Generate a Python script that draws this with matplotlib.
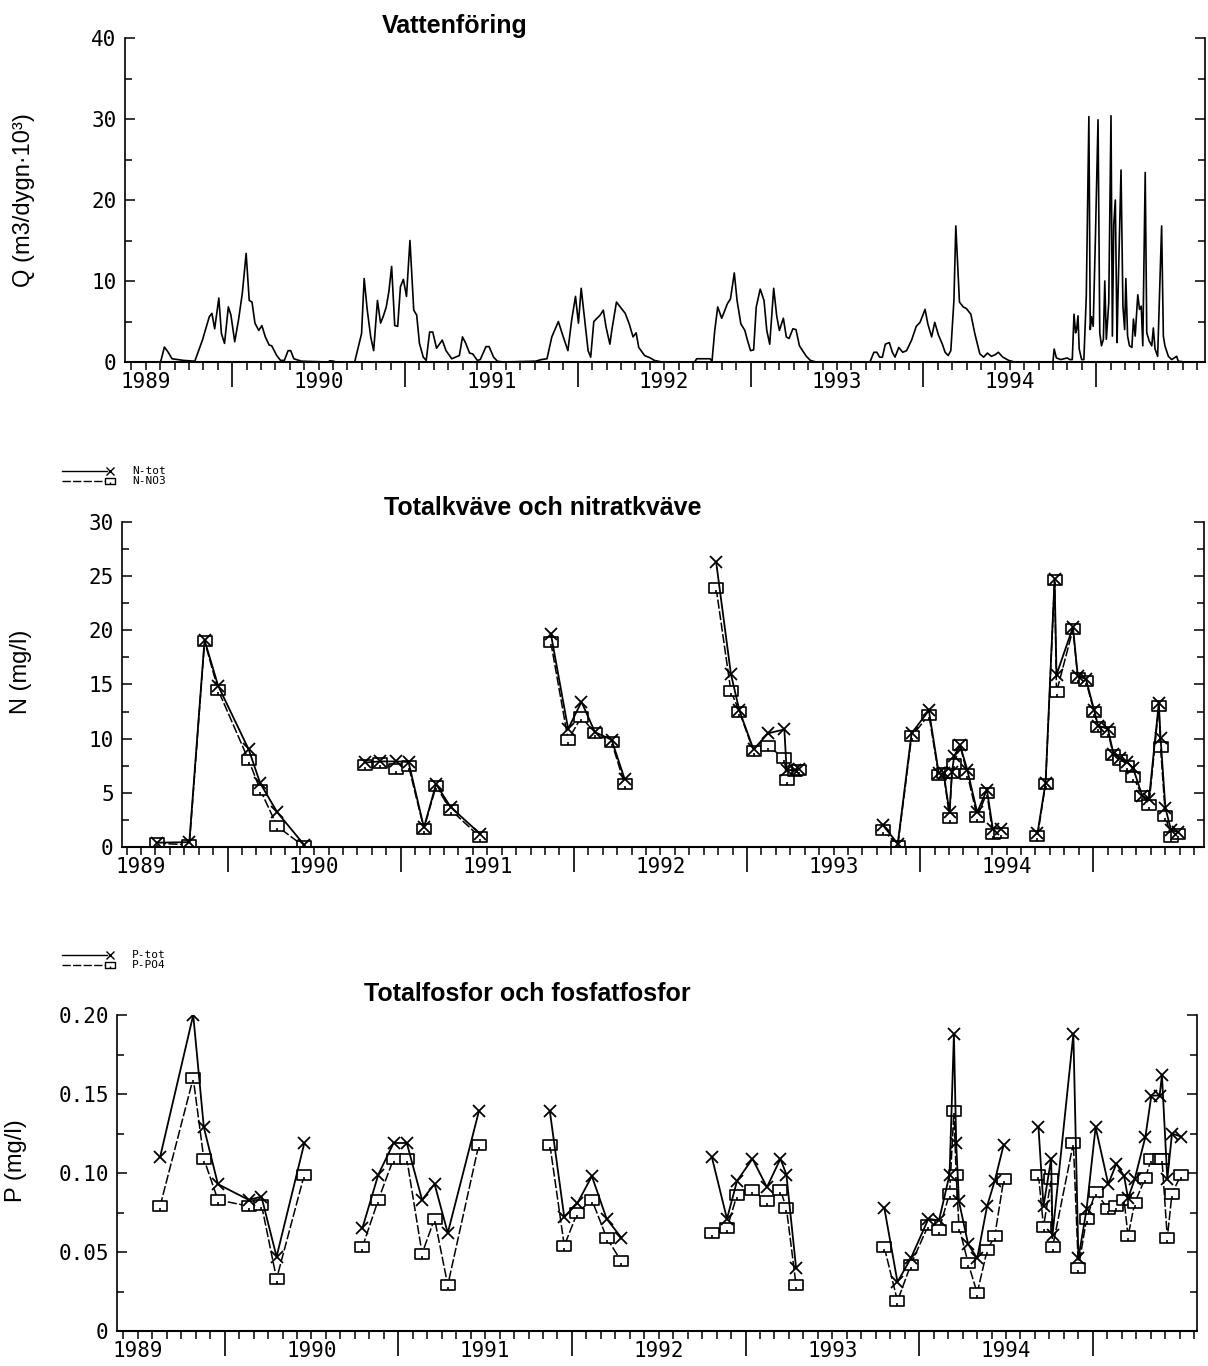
import numpy as np
import matplotlib
matplotlib.use("Agg")
import matplotlib.pyplot as plt
from matplotlib.path import Path
from matplotlib.lines import Line2D
import matplotlib.font_manager as fm

# ---- data (decimal years) ----
year_labels = ["1989", "1990", "1991", "1992", "1993", "1994"]

q_t = [1988.877, 1989.086, 1989.108, 1989.130, 1989.152, 1989.218, 1989.284, 1989.306, 1989.328, 1989.350,
       1989.368, 1989.383, 1989.399, 1989.423, 1989.438, 1989.456, 1989.478, 1989.493, 1989.515, 1989.537,
       1989.559, 1989.581, 1989.599, 1989.615, 1989.632, 1989.654, 1989.672, 1989.692, 1989.714, 1989.729,
       1989.758, 1989.780, 1989.802, 1989.824, 1989.839, 1989.857, 1989.901, 1990.055, 1990.066, 1990.088,
       1990.099, 1990.209, 1990.231, 1990.249, 1990.264, 1990.282, 1990.302, 1990.319, 1990.341, 1990.359,
       1990.374, 1990.392, 1990.407, 1990.423, 1990.441, 1990.458, 1990.474, 1990.491, 1990.509, 1990.529,
       1990.551, 1990.568, 1990.584, 1990.606, 1990.623, 1990.643, 1990.661, 1990.683, 1990.716, 1990.738,
       1990.771, 1990.793, 1990.815, 1990.833, 1990.852, 1990.874, 1990.892, 1990.919, 1990.936, 1990.969,
       1990.987, 1991.013, 1991.035, 1991.068, 1991.256, 1991.289, 1991.322, 1991.350, 1991.388, 1991.410,
       1991.443, 1991.465, 1991.487, 1991.504, 1991.520, 1991.542, 1991.560, 1991.575, 1991.593, 1991.630,
       1991.648, 1991.664, 1991.686, 1991.697, 1991.724, 1991.753, 1991.775, 1991.798, 1991.820, 1991.838,
       1991.853, 1991.887, 1991.920, 1991.943, 1991.987, 1992.177, 1992.188, 1992.266, 1992.277, 1992.293,
       1992.310, 1992.333, 1992.348, 1992.366, 1992.384, 1992.406, 1992.422, 1992.444, 1992.467, 1992.482,
       1992.500, 1992.518, 1992.533, 1992.556, 1992.578, 1992.594, 1992.611, 1992.634, 1992.652, 1992.667,
       1992.690, 1992.707, 1992.723, 1992.745, 1992.763, 1992.783, 1992.801, 1992.823, 1992.846, 1992.879,
       1993.191, 1993.214, 1993.231, 1993.247, 1993.263, 1993.280, 1993.303, 1993.321, 1993.336, 1993.358,
       1993.381, 1993.403, 1993.432, 1993.459, 1993.481, 1993.510, 1993.526, 1993.548, 1993.566, 1993.588,
       1993.610, 1993.626, 1993.644, 1993.659, 1993.677, 1993.688, 1993.700, 1993.709, 1993.731, 1993.749,
       1993.775, 1993.798, 1993.827, 1993.849, 1993.871, 1993.894, 1993.916, 1993.934, 1993.960, 1993.994,
       1994.027, 1994.250, 1994.257, 1994.270, 1994.295, 1994.333, 1994.347, 1994.362, 1994.372, 1994.381,
       1994.387, 1994.395, 1994.402, 1994.416, 1994.429, 1994.443, 1994.458, 1994.466, 1994.473, 1994.483,
       1994.496, 1994.511, 1994.521, 1994.531, 1994.542, 1994.550, 1994.559, 1994.573, 1994.586, 1994.594,
       1994.602, 1994.611, 1994.621, 1994.626, 1994.644, 1994.655, 1994.665, 1994.672, 1994.682, 1994.693,
       1994.707, 1994.716, 1994.726, 1994.741, 1994.751, 1994.761, 1994.770, 1994.784, 1994.793, 1994.807,
       1994.822, 1994.831, 1994.841, 1994.856, 1994.879, 1994.889, 1994.898, 1994.918, 1994.937, 1994.966,
       1994.975, 1995.013]
q_val = [0, 0, 1.85, 1.2, 0.4, 0.2, 0.1, 1.4, 2.7, 4.3,
         5.6, 6.0, 4.1, 7.9, 3.5, 2.3, 6.8, 5.8, 2.5, 5.2,
         8.5, 13.4, 7.6, 7.4, 4.8, 3.9, 4.5, 3.1, 2.1, 2.0,
         0.8, 0.2, 0.2, 1.4, 1.4, 0.4, 0.1, 0.0, 0.15, 0.1,
         0, 0, 1.9, 3.5, 10.3, 6.4, 3.1, 1.4, 7.6, 4.8,
         5.6, 6.8, 8.7, 11.8, 4.5, 4.4, 9.3, 10.2, 8.1, 15.0,
         6.4, 5.8, 2.3, 0.6, 0.2, 3.7, 3.7, 1.7, 2.7, 1.4,
         0.4, 0.6, 0.8, 3.1, 2.3, 1.1, 1.0, 0.2, 0.3, 1.9,
         1.9, 0.6, 0.1, 0, 0.1, 0.3, 0.4, 3.1, 5.0, 3.5,
         1.4, 5.2, 8.1, 4.8, 9.1, 4.8, 1.4, 0.6, 5.0, 5.8,
         6.4, 4.3, 2.2, 3.9, 7.4, 6.6, 6.0, 4.7, 3.1, 3.6,
         1.8, 0.8, 0.5, 0.2, 0, 0, 0.4, 0.4, 0.1, 3.9,
         6.8, 5.4, 6.2, 7.2, 7.8, 11.0, 7.6, 4.7, 3.9, 2.7,
         1.4, 1.5, 6.8, 9.0, 7.6, 3.9, 2.2, 9.1, 5.6, 3.9,
         5.4, 3.1, 2.9, 4.1, 4.0, 2.0, 1.4, 0.7, 0.2, 0,
         0, 1.2, 1.2, 0.6, 0.6, 2.2, 2.4, 1.2, 0.6, 1.8,
         1.2, 1.4, 2.7, 4.4, 4.9, 6.5, 4.7, 3.1, 4.9, 3.3,
         2.2, 1.2, 0.8, 1.4, 7.6, 16.8, 11.4, 7.4, 6.8, 6.6,
         5.9, 3.5, 1.0, 0.6, 1.1, 0.7, 0.9, 1.2, 0.6, 0.2,
         0, 0, 1.6, 0.5, 0.3, 0.5, 0.3, 0.3, 5.9, 3.6,
         4.0, 5.7, 1.6, 0.3, 0.3, 8.1, 30.3, 4.0, 5.6, 4.4,
         15.5, 29.9, 3.6, 2.0, 2.8, 10.0, 2.8, 7.3, 30.4, 3.2,
         17.0, 20.0, 2.4, 7.7, 23.7, 6.9, 4.0, 10.3, 3.2, 2.0,
         1.8, 5.3, 3.2, 8.3, 6.5, 6.9, 2.0, 23.4, 3.6, 2.6,
         2.0, 4.2, 1.6, 0.7, 16.8, 3.2, 2.0, 0.7, 0.3, 0.7,
         0.1, 0]

nan = np.nan
n_t = [1989.091, 1989.279, 1989.367, 1989.445, 1989.622, 1989.688, 1989.787, 1989.942, 1990.1,
       1990.296, 1990.380, 1990.472, 1990.545, 1990.634, 1990.704, 1990.788, 1990.959, 1991.1,
       1991.367, 1991.467, 1991.544, 1991.622, 1991.718, 1991.793, 1992.0,
       1992.322, 1992.407, 1992.456, 1992.538, 1992.622, 1992.716, 1992.729, 1992.775, 1992.800, 1993.0,
       1993.286, 1993.371, 1993.451, 1993.551, 1993.608, 1993.636, 1993.670, 1993.684, 1993.697, 1993.731,
       1993.773, 1993.830, 1993.886, 1993.920, 1993.970, 1994.1,
       1994.178, 1994.225, 1994.277, 1994.288, 1994.383, 1994.411, 1994.458, 1994.506, 1994.528, 1994.585,
       1994.617, 1994.655, 1994.695, 1994.731, 1994.784, 1994.822, 1994.879, 1994.889, 1994.917, 1994.949,
       1994.992]
n_tot = [0.4, 0.45, 19.1, 14.9, 9.0, 5.9, 3.2, 0.2, nan,
         7.8, 7.9, 7.9, 7.85, 1.8, 5.8, 3.7, 1.2, nan,
         19.7, 10.9, 13.4, 10.6, 9.9, 6.3, nan,
         26.3, 16.0, 12.6, 9.0, 10.5, 10.85, 7.1, 7.1, 7.2, nan,
         2.0, 0.3, 10.5, 12.6, 6.8, 6.8, 3.2, 6.9, 8.4, 9.4,
         7.1, 3.2, 5.3, 1.7, 1.7, nan,
         1.25, 5.95, 24.75, 15.9, 20.3, 15.8, 15.5, 12.6, 11.2, 10.9,
         8.6, 8.2, 7.85, 7.25, 4.7, 4.4, 13.3, 10.1, 3.6, 1.6,
         1.35]
n_no3 = [0.35, 0.2, 19.0, 14.5, 8.0, 5.3, 1.9, 0.05, nan,
         7.6, 7.75, 7.2, 7.5, 1.7, 5.6, 3.45, 0.9, nan,
         18.9, 9.9, 12.0, 10.5, 9.7, 5.8, nan,
         23.9, 14.4, 12.5, 8.85, 9.3, 8.2, 6.2, 7.0, 7.1, nan,
         1.6, 0.1, 10.2, 12.2, 6.6, 6.8, 2.7, 6.8, 7.7, 9.4,
         6.7, 2.8, 5.0, 1.2, 1.3, nan,
         1.0, 5.85, 24.66, 14.3, 20.1, 15.6, 15.3, 12.45, 11.1, 10.6,
         8.5, 8.0, 7.5, 6.5, 4.7, 3.9, 13.0, 9.2, 2.9, 0.9,
         1.2]

p_t = [1989.128, 1989.319, 1989.380, 1989.461, 1989.638, 1989.712, 1989.799, 1989.959, 1990.1,
       1990.293, 1990.385, 1990.473, 1990.549, 1990.637, 1990.709, 1990.785, 1990.964, 1991.1,
       1991.373, 1991.456, 1991.532, 1991.615, 1991.700, 1991.785, 1992.0,
       1992.306, 1992.393, 1992.451, 1992.540, 1992.623, 1992.701, 1992.735, 1992.791, 1993.0,
       1993.299, 1993.375, 1993.452, 1993.553, 1993.614, 1993.675, 1993.700, 1993.713, 1993.729, 1993.782,
       1993.834, 1993.891, 1993.935, 1993.987, 1994.1,
       1994.187, 1994.216, 1994.260, 1994.268, 1994.388, 1994.417, 1994.464, 1994.516, 1994.589, 1994.636,
       1994.680, 1994.703, 1994.741, 1994.803, 1994.837, 1994.885, 1994.898, 1994.929, 1994.956, 1995.009]
p_tot = [0.110, 0.200, 0.129, 0.093, 0.083, 0.085, 0.047, 0.119, nan,
         0.065, 0.099, 0.119, 0.119, 0.083, 0.093, 0.062, 0.139, nan,
         0.139, 0.072, 0.081, 0.098, 0.071, 0.059, nan,
         0.110, 0.071, 0.095, 0.109, 0.091, 0.109, 0.099, 0.040, nan,
         0.078, 0.031, 0.046, 0.071, 0.070, 0.099, 0.188, 0.119, 0.082, 0.055,
         0.046, 0.079, 0.095, 0.118, nan,
         0.129, 0.079, 0.109, 0.061, 0.188, 0.046, 0.077, 0.129, 0.093, 0.106,
         0.098, 0.084, 0.096, 0.123, 0.149, 0.149, 0.162, 0.096, 0.125, 0.123]
p_po4 = [0.079, 0.160, 0.109, 0.083, 0.079, 0.080, 0.033, 0.099, nan,
         0.053, 0.083, 0.109, 0.109, 0.049, 0.071, 0.029, 0.118, nan,
         0.118, 0.054, 0.075, 0.083, 0.059, 0.044, nan,
         0.062, 0.065, 0.086, 0.089, 0.082, 0.089, 0.078, 0.029, nan,
         0.053, 0.019, 0.042, 0.067, 0.064, 0.087, 0.139, 0.099, 0.066, 0.043,
         0.024, 0.051, 0.060, 0.096, nan,
         0.099, 0.066, 0.096, 0.053, 0.119, 0.040, 0.071, 0.088, 0.077, 0.079,
         0.083, 0.060, 0.081, 0.097, 0.109, 0.109, 0.109, 0.059, 0.087, 0.099]

# ---- style ----
names = {f.name for f in fm.fontManager.ttflist}
narrow = "Liberation Sans Narrow" if "Liberation Sans Narrow" in names else "Liberation Sans"
tickfont = "DejaVu Sans Mono"

W, H = 1208, 1366
fig = plt.figure(figsize=(W / 100, H / 100), dpi=100)


def px_axes(l, r, t, b):
    return fig.add_axes([l / W, 1 - b / H, (r - l) / W, (b - t) / H])


box = Path([(-1.5, -1), (1.5, -1), (1.5, 1), (-1.5, 1), (-1.5, -1), (0, -1), (0, -0.35)],
           [Path.MOVETO, Path.LINETO, Path.LINETO, Path.LINETO, Path.CLOSEPOLY, Path.MOVETO, Path.LINETO])
dash = (0, (6, 1.6))


def style_axis(ax, xlim, ylim, yticks, ylabels, yminor, ylabel, ylab_y):
    for s in ("left", "right", "bottom"):
        ax.spines[s].set_linewidth(1.2)
    ax.spines["bottom"].set_linewidth(1.5)
    ax.spines["top"].set_visible(False)
    # x: months minor, long ticks at mid-year, year labels at Jan 1
    ax.set_xticks(np.arange(1989.5, 1995, 1.0))
    ax.set_xticklabels([])
    ax.set_xticks(np.arange(1988.0, 1996, 1 / 12), minor=True)
    ax.tick_params(axis="x", which="major", direction="out", length=18, width=1.2)
    ax.tick_params(axis="x", which="minor", direction="out", length=6, width=1.1)
    # y
    ax.set_yticks(yticks, ylabels)
    ax.set_yticks(yminor, minor=True)
    ax.tick_params(axis="y", which="both", direction="in", right=True, width=1.1)
    ax.tick_params(axis="y", which="major", length=7, pad=6, labelsize=15)
    ax.tick_params(axis="y", which="minor", length=5)
    for lab in ax.get_yticklabels():
        lab.set_family(tickfont)
    ax.set_xlim(*xlim)
    ax.set_ylim(*ylim)
    sec = ax.secondary_xaxis("bottom")
    sec.set_xticks(np.arange(1989, 1995), year_labels)
    sec.tick_params(length=0, pad=7, labelsize=15)
    sec.spines["bottom"].set_visible(False)
    for lab in sec.get_xticklabels():
        lab.set_family(tickfont)
    ax.set_ylabel(ylabel, fontsize=17, family=narrow)
    ax.yaxis.set_label_coords(-0.083, ylab_y)


def legend(x, y, lab1, lab2):
    for dy, ls, mk, lab in ((0, "-", "x", lab1), (10, dash, box, lab2)):
        yy = 1 - (y + dy) / H
        fig.add_artist(Line2D([x / W, (x + 45) / W], [yy, yy], color="k", lw=1.0, ls=ls,
                              transform=fig.transFigure))
        fig.add_artist(Line2D([(x + 48) / W], [yy], color="k", marker=mk, ms=6 if mk == "x" else 7,
                              mew=1.0, mfc="white", transform=fig.transFigure))
        fig.text((x + 70) / W, yy, lab, fontsize=8, family=tickfont, va="center", ha="left")


# ---- top: flow ----
ax1 = px_axes(125, 1205, 38, 362)
ax1.plot(q_t, q_val, color="k", lw=1.2)
style_axis(ax1, (1988.88, 1995.13), (0, 40), [0, 10, 20, 30, 40], ["0", "10", "20", "30", "40"],
           np.arange(0, 41, 5), "Q (m3/dygn·10³)", 0.5)
fig.text(455 / W, 1 - 26 / H, "Vattenföring", fontsize=18, fontweight="bold",
         family="Liberation Sans", ha="center", va="center")

# ---- middle: nitrogen ----
ax2 = px_axes(122, 1204, 522, 847)
ax2.plot(n_t, n_no3, color="k", lw=1.1, ls=dash, marker=box, ms=10, mfc="white", mew=1.2)
ax2.plot(n_t, n_tot, color="k", lw=1.3, marker="x", ms=8, mew=1.3)
style_axis(ax2, (1988.89, 1995.14), (0, 30), [0, 5, 10, 15, 20, 25, 30],
           ["0", "5", "10", "15", "20", "25", "30"], np.arange(0, 30.1, 2.5), "N (mg/l)", 0.54)
fig.text(543 / W, 1 - 508 / H, "Totalkväve och nitratkväve", fontsize=18, fontweight="bold",
         family="Liberation Sans", ha="center", va="center")
legend(62, 471, "N-tot", "N-NO3")

# ---- bottom: phosphorus ----
ax3 = px_axes(117, 1197, 1015, 1331)
ax3.plot(p_t, p_po4, color="k", lw=1.1, ls=dash, marker=box, ms=10, mfc="white", mew=1.2)
ax3.plot(p_t, p_tot, color="k", lw=1.3, marker="x", ms=8, mew=1.3)
style_axis(ax3, (1988.88, 1995.10), (0, 0.20), [0, 0.05, 0.10, 0.15, 0.20],
           ["0", "0.05", "0.10", "0.15", "0.20"], np.arange(0, 0.201, 0.025), "P (mg/l)", 0.54)
fig.text(527 / W, 1 - 994 / H, "Totalfosfor och fosfatfosfor", fontsize=18, fontweight="bold",
         family="Liberation Sans", ha="center", va="center")
legend(62, 955, "P-tot", "P-PO4")

fig.savefig("out.png", dpi=100, facecolor="white")
